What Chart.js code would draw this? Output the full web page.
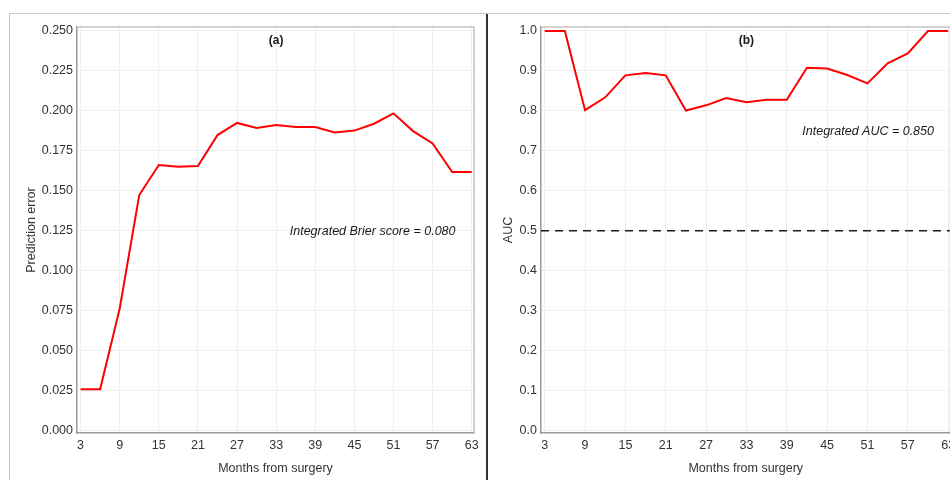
<!DOCTYPE html>
<html>
<head>
<meta charset="utf-8">
<script src="https://cdn.jsdelivr.net/npm/chart.js@4.4.1/dist/chart.umd.min.js"></script>
<style>
html, body { margin: 0; padding: 0; background: #fff; width: 950px; height: 480px; overflow: hidden; }
.frameTop { position: absolute; left: 9px; top: 13px; width: 960px; height: 0; border-top: 1.5px solid #c6c6c6; }
.frameLeft { position: absolute; left: 8.5px; top: 13px; width: 0; height: 480px; border-left: 1.5px solid #c6c6c6; }
.divider { position: absolute; left: 485.5px; top: 14px; width: 2px; height: 470px; background: #333; }
.panel { position: absolute; top: 15px; height: 465px; }
#panelA { left: 10px; width: 477px; }
#panelB { left: 489px; width: 490px; }
</style>
</head>
<body>
<div class="frameTop"></div>
<div class="frameLeft"></div>
<div class="divider"></div>
<div class="panel" id="panelA"><canvas id="brierChart"></canvas></div>
<div class="panel" id="panelB"><canvas id="aucChart"></canvas></div>

<script>
/* ==========================================
DATA
========================================== */

const months = [3, 6, 9, 12, 15, 18, 21, 24, 27, 30, 33, 36, 39, 42, 45, 48, 51, 54, 57, 60, 63];

const brierScore = [
0.026, 0.026, 0.0765, 0.1474, 0.1662, 0.1651, 0.1656, 0.1849, 0.1925, 0.1893, 0.1912,
0.1900, 0.1900, 0.1866, 0.1877, 0.1920, 0.1985, 0.1874, 0.1797, 0.1618, 0.1618
];

const aucScore = [
1.0, 1.0, 0.802, 0.834, 0.889, 0.895, 0.889, 0.801, 0.814, 0.832, 0.8215,
0.828, 0.828, 0.908, 0.906, 0.890, 0.869, 0.919, 0.944, 1.0, 1.0
];

const monthTicks = [3, 9, 15, 21, 27, 33, 39, 45, 51, 57, 63];
const brierTicks = [0, 0.025, 0.05, 0.075, 0.1, 0.125, 0.15, 0.175, 0.2, 0.225, 0.25];
const aucTicks = [0, 0.1, 0.2, 0.3, 0.4, 0.5, 0.6, 0.7, 0.8, 0.9, 1.0];
const aucReference = 0.5;

/* ==========================================
SHARED STYLE
========================================== */

const FONT = "'Liberation Sans', Arial, sans-serif";
const TEXT = "#333333";

const panelExtras = {
id: "panelExtras",
beforeDatasetsDraw(chart, args, opts) {
if (opts.refLine === undefined) return;
const {ctx, chartArea, scales} = chart;
const y = scales.y.getPixelForValue(opts.refLine);
ctx.save();
ctx.strokeStyle = "#1a1a1a";
ctx.lineWidth = 1.5;
ctx.setLineDash([8, 6]);
ctx.beginPath();
ctx.moveTo(chartArea.left, y);
ctx.lineTo(chartArea.right, y);
ctx.stroke();
ctx.restore();
},
afterDraw(chart, args, opts) {
const {ctx, chartArea, scales} = chart;
ctx.save();
// light top / right panel border
ctx.strokeStyle = "#c4c4c4";
ctx.lineWidth = 1.5;
ctx.beginPath();
ctx.moveTo(chartArea.left, chartArea.top);
ctx.lineTo(chartArea.right, chartArea.top);
ctx.lineTo(chartArea.right, chartArea.bottom);
ctx.stroke();

ctx.fillStyle = "#1a1a1a";
ctx.textAlign = "center";
ctx.textBaseline = "middle";
ctx.font = "bold 12px " + FONT;
ctx.fillText(opts.tag, scales.x.getPixelForValue(opts.tagAt[0]), scales.y.getPixelForValue(opts.tagAt[1]));
ctx.font = "italic 12.5px " + FONT;
ctx.fillText(opts.note, scales.x.getPixelForValue(opts.noteAt[0]), scales.y.getPixelForValue(opts.noteAt[1]));
ctx.restore();
}
};

function makePanel(canvasId, values, yTicks, cfg) {
return new Chart(
document.getElementById(canvasId),
{
type: "line",

data: {
datasets: [{
data: months.map((m, i) => ({x: m, y: values[i]})),
borderColor: "#ff0000",
borderWidth: 2,
pointRadius: 0,
tension: 0,
fill: false
}]
},

plugins: [panelExtras],

options: {
responsive: true,
maintainAspectRatio: false,
animation: false,
layout: {
padding: {top: 12, right: cfg.padRight, left: 0, bottom: 0}
},

plugins: {
legend: {display: false},
tooltip: {enabled: false},
panelExtras: cfg.extras
},

scales: {
x: {
type: "linear",
min: 2.45,
max: 63.35,
afterBuildTicks: s => { s.ticks = monthTicks.map(v => ({value: v})); },
afterFit: s => { s.height = 47; },
grid: {color: "#efefef", lineWidth: 1, drawTicks: false},
border: {color: "#9a9a9a", width: 1.5},
ticks: {
color: TEXT,
padding: 5,
maxRotation: 0,
autoSkip: false,
font: {family: FONT, size: 12.5},
callback: v => String(v)
},
title: {
display: true,
text: "Months from surgery",
color: TEXT,
font: {family: FONT, size: 12.5},
padding: {top: 0, bottom: 4}
}
},
y: {
min: cfg.yMin,
max: cfg.yMax,
afterBuildTicks: s => { s.ticks = yTicks.map(v => ({value: v})); },
afterFit: s => { s.width = cfg.yWidth; },
grid: {color: "#efefef", lineWidth: 1, drawTicks: false},
border: {color: "#9a9a9a", width: 1.5},
ticks: {
color: TEXT,
padding: 4,
autoSkip: false,
font: {family: FONT, size: 12.5},
callback: v => v.toFixed(cfg.decimals)
},
title: {
display: true,
text: cfg.yTitle,
color: TEXT,
font: {family: FONT, size: 12.5},
padding: {top: cfg.titleOffset, bottom: 0}
}
}
}
}
}
);
}

/* ==========================================
(a) PREDICTION ERROR
========================================== */

makePanel("brierChart", brierScore, brierTicks, {
yMin: -0.0014,
yMax: 0.2525,
yWidth: 67,
padRight: 13,
decimals: 3,
yTitle: "Prediction error",
titleOffset: 14,
extras: {
tag: "(a)", tagAt: [33, 0.2442],
note: "Integrated Brier score = 0.080", noteAt: [47.8, 0.1248]
}
});

/* ==========================================
(b) TIME-DEPENDENT AUC
========================================== */

makePanel("aucChart", aucScore, aucTicks, {
yMin: -0.0058,
yMax: 1.01,
yWidth: 52,
padRight: 28.5,
decimals: 1,
yTitle: "AUC",
titleOffset: 12.5,
extras: {
refLine: aucReference,
tag: "(b)", tagAt: [33, 0.977],
note: "Integrated AUC = 0.850", noteAt: [51.1, 0.749]
}
});
</script>
</body>
</html>
